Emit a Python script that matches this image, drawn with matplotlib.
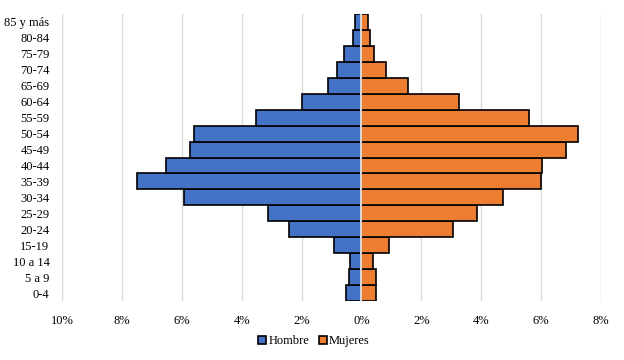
import matplotlib
matplotlib.use("Agg")
import matplotlib.pyplot as plt
from matplotlib.ticker import FuncFormatter

categories = ["0-4", "5 a 9", "10 a 14", "15-19", "20-24", "25-29", "30-34", "35-39",
              "40-44", "45-49", "50-54", "55-59", "60-64", "65-69", "70-74", "75-79",
              "80-84", "85 y más"]
hombre = [0.50, 0.43, 0.37, 0.90, 2.43, 3.13, 5.93, 7.50, 6.53, 5.73, 5.60, 3.53,
          2.00, 1.13, 0.80, 0.57, 0.27, 0.23]
mujeres = [0.50, 0.50, 0.40, 0.93, 3.07, 3.87, 4.73, 6.00, 6.03, 6.83, 7.23, 5.60,
           3.27, 1.57, 0.83, 0.43, 0.27, 0.23]
xticks = [-10, -8, -6, -4, -2, 0, 2, 4, 6, 8]

plt.rcParams['font.family'] = ['Liberation Serif', 'DejaVu Serif']

fig = plt.figure(figsize=(6.24, 3.6), dpi=100)
ax = fig.add_axes([62/624, 1 - 301/360, (601 - 62)/624, (301 - 14)/360])

y = list(range(len(categories)))
ax.barh(y, [-v for v in hombre], height=1.0, color="#4472c4", edgecolor="black",
        linewidth=1.2, label="Hombre", zorder=2)
ax.barh(y, mujeres, height=1.0, color="#ed7d31", edgecolor="black",
        linewidth=1.2, label="Mujeres", zorder=2)
ax.axvline(0, color="white", linewidth=1.2, zorder=3)

ax.set_xlim(-10, 8)
ax.set_ylim(-0.5, len(categories) - 0.5)
ax.set_xticks(xticks)
ax.xaxis.set_major_formatter(FuncFormatter(lambda v, p: f"{abs(int(round(v)))}%"))
ax.set_yticks(y)
ax.set_yticklabels(categories)
ax.grid(axis="x", color="#d9d9d9", linewidth=1.0, zorder=0)
ax.set_axisbelow(True)
for s in ax.spines.values():
    s.set_visible(False)
ax.tick_params(axis="both", length=0, labelsize=9, colors="black")
ax.tick_params(axis="x", pad=10)
ax.tick_params(axis="y", pad=9)

leg = fig.legend(loc="center", bbox_to_anchor=(314/624, 1 - 341/360), ncol=2,
                 frameon=False, fontsize=9, handlelength=0.6, handleheight=0.6,
                 handletextpad=0.2, columnspacing=0.8)

fig.savefig("out.png", dpi=100)
